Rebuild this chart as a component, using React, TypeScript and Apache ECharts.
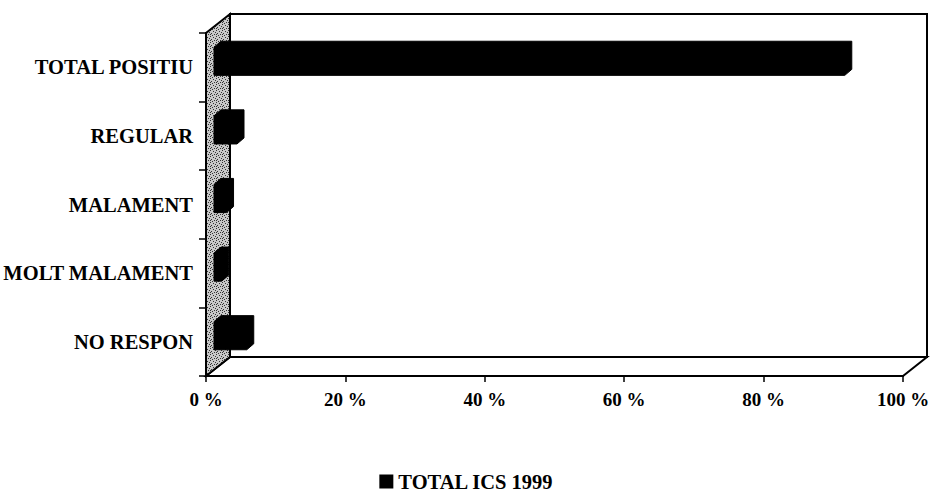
import React, { useEffect, useRef } from "react";
import * as echarts from "echarts";

const categories = ["TOTAL POSITIU", "REGULAR", "MALAMENT", "MOLT MALAMENT", "NO RESPON"];
const values = [90.5, 3.3, 1.8, 1.1, 4.7];
const seriesName = "TOTAL ICS 1999";
const xMin = 0;
const xMax = 100;
const xInterval = 20;

const FONT = "'Liberation Serif', 'Times New Roman', serif";
const DEPTH_X = 24;
const DEPTH_Y = -19;

function makeStipple(): any {
  const c = document.createElement("canvas");
  c.width = 6;
  c.height = 6;
  const ctx = c.getContext("2d");
  if (!ctx) return "#aaaaaa";
  ctx.fillStyle = "#c8c8c8";
  ctx.fillRect(0, 0, 6, 6);
  ctx.fillStyle = "#333";
  const dots = [[0, 0], [3, 1], [1, 3], [4, 4], [5, 2], [2, 5], [0, 4]];
  dots.forEach(([x, y]) => ctx.fillRect(x, y, 1, 1));
  return { image: c, repeat: "repeat" };
}

export default function App() {
  const ref = useRef<HTMLDivElement>(null);
  useEffect(() => {
    if (!ref.current) return;
    const chart = echarts.init(ref.current, undefined, { renderer: "svg" });
    const stipple = makeStipple();
    const lineColor = "#000";
    chart.setOption({
      animation: false,
      backgroundColor: "#fff",
      grid: { left: 206, right: 30, top: 33, bottom: 117, containLabel: false, outerBoundsMode: "none" },
      legend: {
        data: [seriesName],
        left: "center",
        top: 471,
        padding: 0,
        icon: "rect",
        itemWidth: 14,
        itemHeight: 14,
        itemGap: 10,
        textStyle: { fontFamily: FONT, fontSize: 20.5, lineHeight: 16, fontWeight: "bold", color: "#000" },
      },
      xAxis: {
        type: "value",
        min: xMin,
        max: xMax,
        interval: xInterval,
        z: 5,
        axisLine: { show: true, lineStyle: { color: lineColor, width: 2 } },
        axisTick: { show: true, length: 6, lineStyle: { color: lineColor, width: 1.5 } },
        splitLine: { show: false },
        axisLabel: {
          formatter: "{value} %",
          margin: 14,
          color: "#000",
          fontFamily: FONT,
          fontSize: 19,
          fontWeight: "bold",
        },
      },
      yAxis: {
        type: "category",
        data: categories,
        inverse: true,
        z: 5,
        axisLine: { show: true, lineStyle: { color: lineColor, width: 2 } },
        axisTick: { show: true, length: 7, lineStyle: { color: lineColor, width: 1.5 } },
        splitLine: { show: false },
        axisLabel: {
          margin: 13,
          color: "#000",
          fontFamily: FONT,
          fontSize: 20.5,
          fontWeight: "bold",
        },
      },
      series: [
        {
          type: "custom",
          name: "frame",
          z: 1,
          silent: true,
          data: [[0, 0]],
          encode: { x: 0, y: 1 },
          renderItem: (params: any) => {
            const cs = params.coordSys;
            const x = cs.x, y = cs.y, w = cs.width, h = cs.height;
            const dx = DEPTH_X, dy = DEPTH_Y;
            return {
              type: "group",
              children: [
                {
                  type: "rect",
                  shape: { x: x + dx, y: y + dy, width: w, height: h },
                  style: { fill: "#fff", stroke: "#000", lineWidth: 2 },
                },
                {
                  type: "polygon",
                  shape: { points: [[x, y + h], [x + dx, y + h + dy], [x + w + dx, y + h + dy], [x + w, y + h]] },
                  style: { fill: "#fff", stroke: "#000", lineWidth: 2 },
                },
                {
                  type: "polygon",
                  shape: { points: [[x, y + h], [x, y], [x + dx, y + dy], [x + dx, y + h + dy]] },
                  style: { fill: stipple, stroke: "#000", lineWidth: 2 },
                },
              ],
            };
          },
        },
        {
          type: "custom",
          name: seriesName,
          z: 2,
          itemStyle: { color: "#000" },
          data: values.map((v, i) => [v, i]),
          encode: { x: 0, y: 1 },
          renderItem: (params: any, api: any) => {
            const v = api.value(0);
            const i = api.value(1);
            const p0 = api.coord([0, i]);
            const p1 = api.coord([v, i]);
            const band = api.size([0, 1])[1];
            const h = band * 0.41;
            const fx = 8, fy = -6, bx = 7, by = -6;
            const x0 = p0[0] + fx;
            const x1 = p1[0] + fx;
            const yc = p0[1] + fy;
            const yt = yc - h / 2;
            const yb = yc + h / 2;
            return {
              type: "polygon",
              shape: {
                points: [
                  [x0, yb],
                  [x0, yt],
                  [x0 + bx, yt + by],
                  [x1 + bx, yt + by],
                  [x1 + bx, yb + by],
                  [x1, yb],
                ],
              },
              style: { fill: "#000", stroke: "#000", lineWidth: 1 },
            };
          },
        },
      ],
    });
    return () => chart.dispose();
  }, []);
  return (
    <div
      ref={ref}
      style={{ position: "fixed", left: 0, top: 0, width: 933, height: 493, background: "#fff" }}
    />
  );
}
